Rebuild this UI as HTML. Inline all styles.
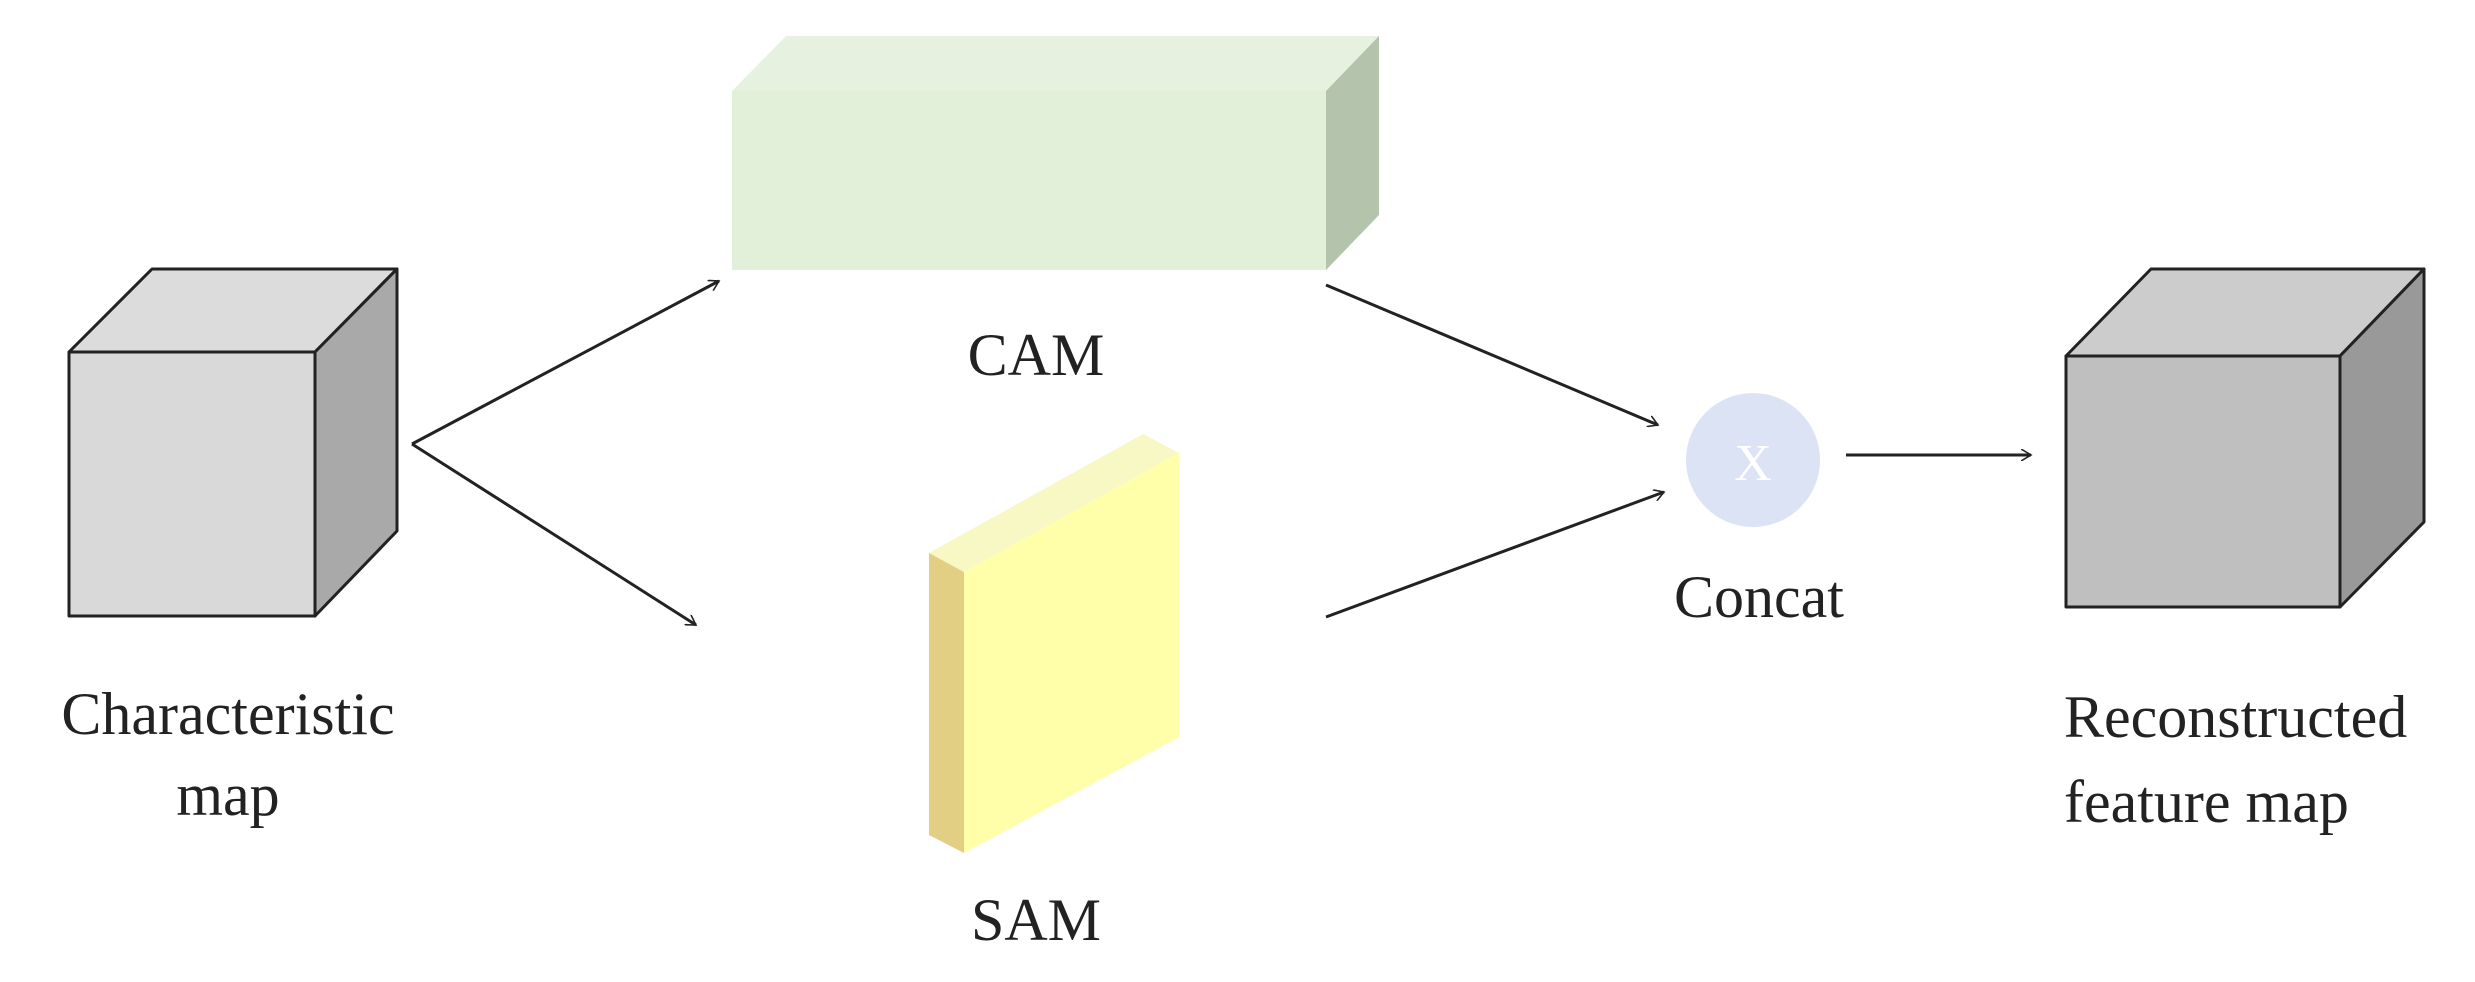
<!DOCTYPE html>
<html><head><style>body{margin:0;background:#fff}svg{display:block}</style></head><body>
<svg width="2475" height="982" viewBox="0 0 2475 982" xmlns="http://www.w3.org/2000/svg">
<defs><marker id="a" markerWidth="12" markerHeight="12" refX="10" refY="6" orient="auto" markerUnits="userSpaceOnUse" viewBox="0 0 12 12"><path d="M0,0 L10,6 L0,12" fill="none" stroke="#222" stroke-width="1.6"/></marker></defs>
<g font-family="Liberation Serif, serif" font-size="60" fill="#222">
<!-- left cube -->
<g stroke="#222" stroke-width="3" stroke-linejoin="round">
<polygon points="69,352 152,269 397,269 315,352" fill="#dcdcdc"/>
<polygon points="315,352 397,269 397,531 315,616" fill="#a9a9a9"/>
<rect x="69" y="352" width="246" height="264" fill="#d9d9d9"/>
</g>
<!-- CAM -->
<polygon points="732,91 786,36 1379,36 1326,91" fill="#e6f2df"/>
<polygon points="1326,91 1379,36 1379,215 1326,270" fill="#b4c3ac"/>
<rect x="732" y="91" width="594" height="179" fill="#e2f0da"/>
<!-- SAM -->
<polygon points="929,553 1143,434 1179,453 964,572" fill="#f8f8c4"/>
<polygon points="929,553 964,572 964,853 929,835" fill="#e3cf84"/>
<polygon points="964,572 1179,453 1179,737 964,853" fill="#ffffaa"/>
<!-- right cube -->
<g stroke="#222" stroke-width="3" stroke-linejoin="round">
<polygon points="2066,356 2151,269 2424,269 2340,356" fill="#cccccc"/>
<polygon points="2340,356 2424,269 2424,522 2340,607" fill="#999999"/>
<rect x="2066" y="356" width="274" height="251" fill="#bfbfbf"/>
</g>
<!-- circle -->
<ellipse cx="1753" cy="460" rx="67" ry="67" fill="#dce3f4"/>
<text x="1753" y="480" text-anchor="middle" fill="#fff" font-size="52">X</text>
<!-- arrows -->
<g stroke="#222" stroke-width="3" fill="none" marker-end="url(#a)">
<path d="M412,444 L719,281"/>
<path d="M412,444 L696,625"/>
<path d="M1326,285 L1658,425"/>
<path d="M1326,617 L1664,492"/>
<path d="M1846,455 L2031,455"/>
</g>
<text x="1036" y="375" text-anchor="middle">CAM</text>
<text x="1036" y="940" text-anchor="middle">SAM</text>
<text x="1759" y="617" text-anchor="middle">Concat</text>
<text x="228" y="734" text-anchor="middle">Characteristic</text>
<text x="228" y="815" text-anchor="middle">map</text>
<text x="2064" y="737">Reconstructed</text>
<text x="2064" y="822">feature map</text>
</g>
</svg>
</body></html>
